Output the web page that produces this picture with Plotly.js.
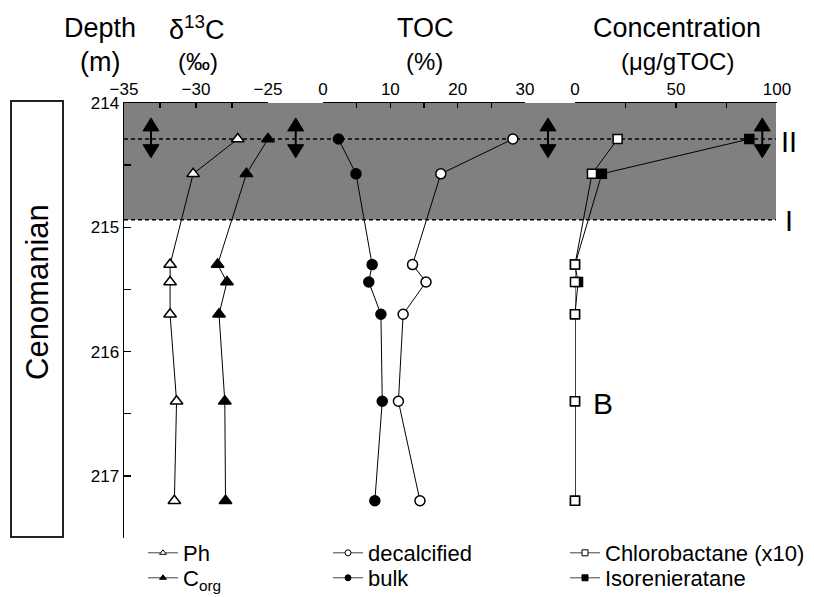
<!DOCTYPE html>
<html>
<head>
<meta charset="utf-8">
<script src="https://cdn.plot.ly/plotly-3.0.1.min.js"></script>
<style>html,body{margin:0;padding:0;background:#fff;}#chart{width:814px;height:597px;}</style>
</head>
<body>
<div id="chart"></div>
<script>
// ---- data ----
const depth = [214.29, 214.57, 215.30, 215.44, 215.70, 216.40, 217.20];
const d13C_Ph = [-27.1, -30.2, -31.8, -31.8, -31.8, -31.35, -31.5];
const d13C_Corg = [-25.0, -26.5, -28.5, -27.85, -28.4, -28.0, -27.95];
const toc_decalcified = [28.2, 17.5, 13.3, 15.3, 11.9, 11.2, 14.4];
const toc_bulk = [2.3, 4.9, 7.3, 6.8, 8.6, 8.8, 7.7];
const chlorobactane_x10 = [21.1, 8.4, 0, 0, 0, 0, 0];
const isorenieratane = [86.3, 13.3, 0, 1.5, 0, 0, 0];

const depthTicks = [214, 215, 216, 217];
const d13CTicks = [-35, -30, -25];
const tocTicks = [0, 10, 20, 30];
const concTicks = [0, 50, 100];
const zoneII = 214.29;
const zoneI = 214.94;
const arrowTop = 214.12, arrowBottom = 214.44;

// ---- geometry helpers (pixel -> paper) ----
const W = 814, H = 597;
const M = {l: 124, r: 37, t: 103, b: 59, autoexpand: false};
const PW = W - M.l - M.r, PH = H - M.t - M.b;
const px = v => (v - M.l) / PW;
const py = v => (H - M.b - v) / PH;

const FONT = 'Liberation Sans, Arial, sans-serif';
const BLACK = '#000';

function series(name, x, xaxis, symbol, filled, size) {
  return {
    type: 'scatter', mode: 'lines+markers', name: name, x: x, y: depth,
    xaxis: xaxis, yaxis: 'y', showlegend: false, cliponaxis: false,
    line: {color: BLACK, width: 1},
    marker: {symbol: symbol, size: size, color: filled ? BLACK : '#fff',
             line: {color: BLACK, width: 1.5}}
  };
}
function legendEntry(name, symbol, filled, legend) {
  return {
    type: 'scatter', mode: 'lines+markers', name: name, x: [null], y: [null],
    xaxis: 'x', yaxis: 'y', showlegend: true, legend: legend,
    line: {color: '#444', width: 1},
    marker: {symbol: symbol, size: 6, color: filled ? BLACK : '#fff',
             line: {color: BLACK, width: 1}}
  };
}

const traces = [
  series('Ph', d13C_Ph, 'x', 'triangle-up', false, 11),
  series('C<sub>org</sub>', d13C_Corg, 'x', 'triangle-up', true, 11),
  series('bulk', toc_bulk, 'x2', 'circle', true, 10),
  series('decalcified', toc_decalcified, 'x2', 'circle', false, 10),
  series('Isorenieratane', isorenieratane, 'x3', 'square', true, 9),
  series('Chlorobactane (x10)', chlorobactane_x10, 'x3', 'square', false, 9),
  legendEntry('Ph', 'triangle-up', false, 'legend'),
  legendEntry('C<sub>org</sub>', 'triangle-up', true, 'legend2'),
  legendEntry('decalcified', 'circle', false, 'legend3'),
  legendEntry('bulk', 'circle', true, 'legend4'),
  legendEntry('Chlorobactane (x10)', 'square', false, 'legend5'),
  legendEntry('Isorenieratane', 'square', true, 'legend6')
];

function topAxis(domain, range, tickvals, minorStep) {
  return {
    domain: domain, range: range, side: 'top', anchor: 'y',
    tickmode: 'array', tickvals: tickvals,
    ticks: 'inside', ticklen: 5, tickwidth: 1.5, tickcolor: BLACK,
    minor: {tickmode: 'linear', tick0: range[0], dtick: minorStep, ticks: 'inside', ticklen: 5, tickwidth: 1.5, tickcolor: BLACK, showgrid: false},
    showline: true, linecolor: BLACK, linewidth: 1.5, mirror: false,
    showgrid: false, zeroline: false, fixedrange: true,
    tickfont: {family: FONT, size: 17, color: BLACK}
  };
}

const shapes = [];
// shaded interval
shapes.push({type: 'rect', xref: 'paper', yref: 'y', x0: 0, x1: px(776), y0: 214, y1: zoneI,
  fillcolor: '#808080', line: {width: 0}, layer: 'below'});
// dashed horizons
[zoneII, zoneI].forEach(d => shapes.push({type: 'line', xref: 'paper', yref: 'y', x0: 0, x1: px(776), y0: d, y1: d,
  line: {color: BLACK, width: 1.5, dash: '4px,3px'}, layer: 'below'}));
// double arrows
const arrowX = [151, 295.7, 548, 762.3].map(px);
const hw = 8 / PW, hh = 13 / (PH / 3.5);
arrowX.forEach(x => {
  shapes.push({type: 'line', xref: 'paper', yref: 'y', x0: x, x1: x, y0: arrowTop + hh * 0.8, y1: arrowBottom - hh * 0.8,
    line: {color: BLACK, width: 2}});
  shapes.push({type: 'path', xref: 'paper', yref: 'y',
    path: `M ${x - hw},${arrowTop + hh} L ${x},${arrowTop} L ${x + hw},${arrowTop + hh} Z`,
    fillcolor: BLACK, line: {color: BLACK, width: 1}});
  shapes.push({type: 'path', xref: 'paper', yref: 'y',
    path: `M ${x - hw},${arrowBottom - hh} L ${x},${arrowBottom} L ${x + hw},${arrowBottom - hh} Z`,
    fillcolor: BLACK, line: {color: BLACK, width: 1}});
});
// Cenomanian box
shapes.push({type: 'rect', xref: 'paper', yref: 'paper', x0: px(11), x1: px(63), y0: py(537), y1: py(101),
  line: {color: '#222', width: 2}, fillcolor: 'rgba(0,0,0,0)'});

function label(text, x, y, size, extra) {
  return Object.assign({text: text, xref: 'paper', yref: 'paper', x: px(x), y: py(y),
    xanchor: 'center', yanchor: 'middle', showarrow: false,
    font: {family: FONT, size: size, color: BLACK}}, extra || {});
}
const annotations = [
  label('Depth', 100, 28, 27),
  label('(m)', 100, 62, 27),
  label('δ<sup>13</sup>C', 197, 28, 27),
  label('(‰)', 198, 62, 24),
  label('TOC', 425, 28, 27),
  label('(%)', 424, 62, 24),
  label('Concentration', 677, 28, 27),
  label('(μg/gTOC)', 677, 62, 24),
  label('Cenomanian', 37, 292, 31, {textangle: -90}),
  label('B', 603, 403, 30),
  label('II', 789, 142, 29),
  label('I', 788.5, 221, 29)
];

function legendBox(x, y) {
  return {x: px(x), y: py(y), xanchor: 'left', yanchor: 'middle', orientation: 'v',
    bgcolor: 'rgba(0,0,0,0)', borderwidth: 0, tracegroupgap: 0, itemwidth: 30,
    font: {family: FONT, size: 22, color: BLACK}};
}

const layout = {
  width: W, height: H, margin: M,
  paper_bgcolor: '#fff', plot_bgcolor: 'rgba(0,0,0,0)',
  showlegend: true,
  xaxis: topAxis([0, px(268)], [-35, -25], d13CTicks, 2.5),
  xaxis2: topAxis([px(323), px(525)], [0, 30], tocTicks, 5),
  xaxis3: topAxis([px(575), px(777)], [0, 100], concTicks, 25),
  yaxis: {
    domain: [0, 1], range: [217.5, 214], anchor: 'x', side: 'left',
    tickmode: 'array', tickvals: depthTicks,
    ticks: 'inside', ticklen: 7, tickwidth: 1.5, tickcolor: BLACK,
    minor: {tickmode: 'linear', tick0: 214, dtick: 0.5, ticks: 'inside', ticklen: 7, tickwidth: 1.5, tickcolor: BLACK, showgrid: false},
    showline: true, linecolor: BLACK, linewidth: 1.5,
    showgrid: false, zeroline: false, fixedrange: true,
    tickfont: {family: FONT, size: 17, color: BLACK}
  },
  legend: legendBox(143, 553),
  legend2: legendBox(143, 578),
  legend3: legendBox(328, 553),
  legend4: legendBox(328, 578),
  legend5: legendBox(565, 553),
  legend6: legendBox(565, 578),
  shapes: shapes,
  annotations: annotations
};

Plotly.newPlot('chart', traces, layout, {displayModeBar: false, staticPlot: true});
</script>
</body>
</html>
